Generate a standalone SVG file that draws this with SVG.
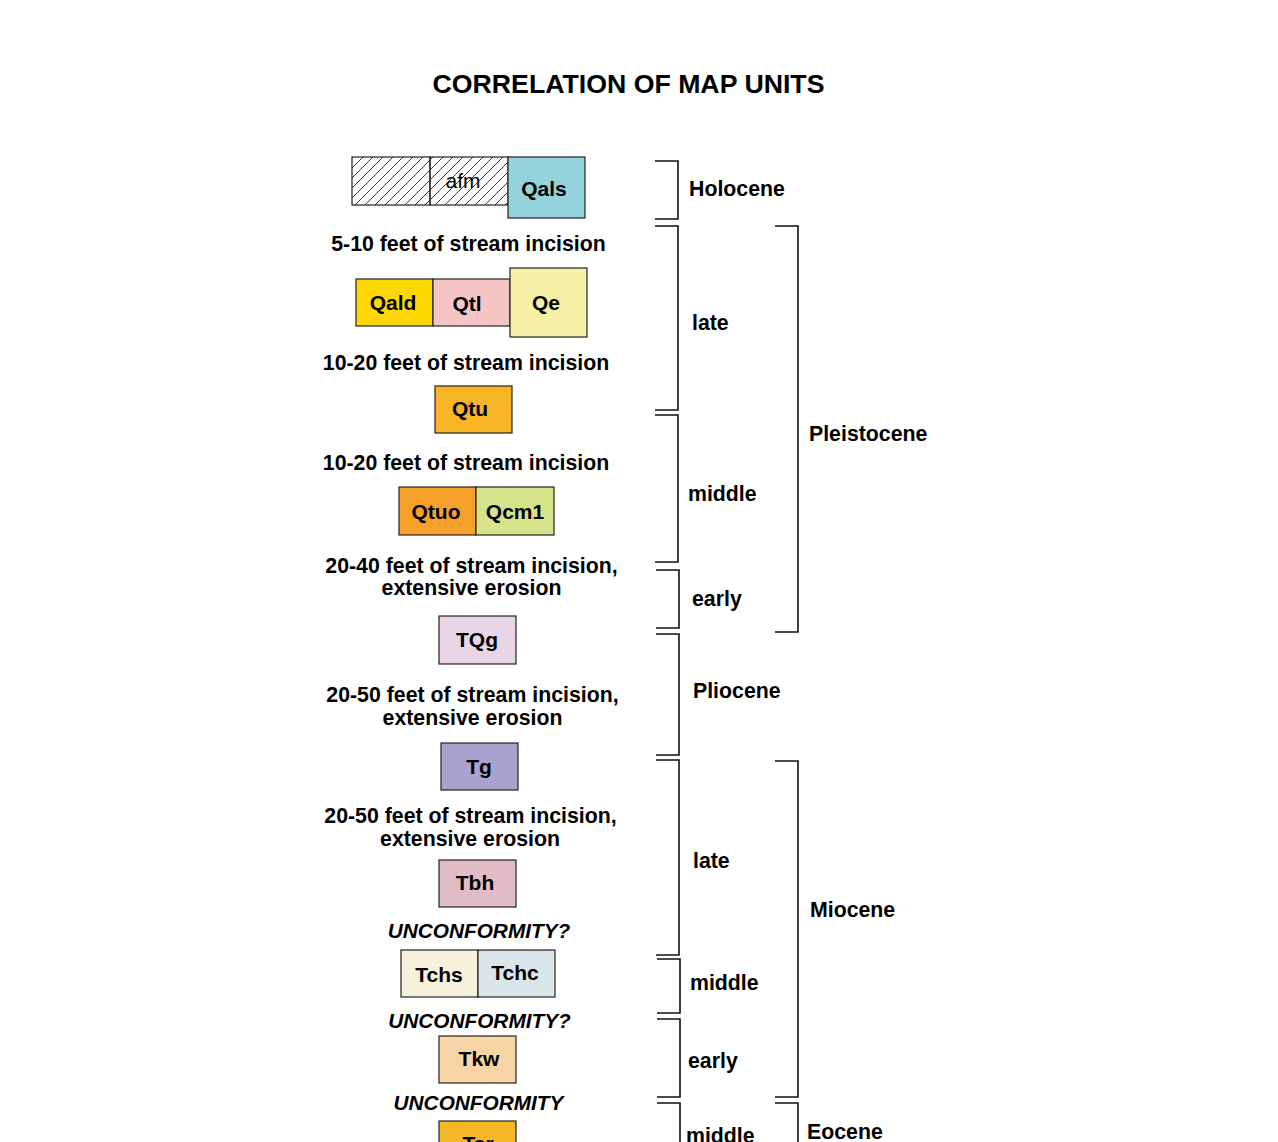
<svg xmlns="http://www.w3.org/2000/svg" width="1278" height="1142" viewBox="0 0 1278 1142">
<defs>
<pattern id="hatch" patternUnits="userSpaceOnUse" width="10" height="10">
<path d="M0,10 L10,0 M-2,2 L2,-2 M8,12 L12,8" stroke="#222" stroke-width="0.9" fill="none"/>
</pattern>
</defs>
<style>
text{font-family:"Liberation Sans",Arial,Helvetica,sans-serif;fill:#000}
.t{font-size:26.7px;font-weight:bold;text-anchor:middle}
.u{font-size:21px;font-weight:bold;text-anchor:middle}
.n{font-size:21px;text-anchor:middle}
.lab{font-size:21.3px;font-weight:bold}
.desc{font-size:21.3px;font-weight:bold;text-anchor:middle}
.unc{font-size:20.8px;font-weight:bold;font-style:italic;text-anchor:middle}
.box{stroke:#222;stroke-width:1.2}
.br{fill:none;stroke:#111;stroke-width:1.6}
</style>
<rect width="1278" height="1142" fill="#fff"/>
<text class="t" x="628.5" y="93">CORRELATION OF MAP UNITS</text>

<g id="hatched1"><rect class="box" x="352" y="157" width="78" height="48" fill="url(#hatch)"/></g>
<g id="afm"><rect class="box" x="430" y="157" width="78" height="48" fill="url(#hatch)"/><text class="n" x="463" y="188">afm</text></g>
<g id="Qals"><rect class="box" x="508" y="157" width="77" height="61" fill="#93d4dc"/><text class="u" x="544" y="196">Qals</text></g>

<text class="desc" x="468.5" y="251">5-10 feet of stream incision</text>
<g id="Qald"><rect class="box" x="356" y="279" width="77" height="47" fill="#fdd800"/><text class="u" x="393" y="310">Qald</text></g>
<g id="Qtl"><rect class="box" x="433" y="279" width="77" height="47" fill="#f5c4c4"/><text class="u" x="467" y="311">Qtl</text></g>
<g id="Qe"><rect class="box" x="510" y="268" width="77" height="69" fill="#f5f0a6"/><text class="u" x="546" y="310">Qe</text></g>

<text class="desc" x="466" y="370">10-20 feet of stream incision</text>
<g id="Qtu"><rect class="box" x="435" y="386" width="77" height="47" fill="#f7b526"/><text class="u" x="470" y="416">Qtu</text></g>

<text class="desc" x="466" y="470">10-20 feet of stream incision</text>
<g id="Qtuo"><rect class="box" x="399" y="487" width="77" height="48" fill="#f5a02a"/><text class="u" x="436" y="519">Qtuo</text></g>
<g id="Qcm1"><rect class="box" x="476" y="487" width="78" height="48" fill="#d6e38a"/><text class="u" x="515" y="519">Qcm1</text></g>

<text class="desc" x="471.5" y="573">20-40 feet of stream incision,</text>
<text class="desc" x="471.5" y="595">extensive erosion</text>
<g id="TQg"><rect class="box" x="439" y="616" width="77" height="48" fill="#e8d5e6"/><text class="u" x="477" y="647">TQg</text></g>

<text class="desc" x="472.5" y="702">20-50 feet of stream incision,</text>
<text class="desc" x="472.5" y="725">extensive erosion</text>
<g id="Tg"><rect class="box" x="441" y="743" width="77" height="47" fill="#a9a2cf"/><text class="u" x="479" y="774">Tg</text></g>

<text class="desc" x="470.5" y="823">20-50 feet of stream incision,</text>
<text class="desc" x="470" y="846">extensive erosion</text>
<g id="Tbh"><rect class="box" x="439" y="860" width="77" height="47" fill="#e0bcc6"/><text class="u" x="475" y="890">Tbh</text></g>

<text class="unc" x="479" y="938">UNCONFORMITY?</text>
<g id="Tchs"><rect class="box" x="401" y="950" width="77" height="47" fill="#f6f1dc"/><text class="u" x="439" y="982">Tchs</text></g>
<g id="Tchc"><rect class="box" x="478" y="950" width="77" height="47" fill="#d9e5e9"/><text class="u" x="515" y="980">Tchc</text></g>

<text class="unc" x="479.5" y="1028">UNCONFORMITY?</text>
<g id="Tkw"><rect class="box" x="439" y="1036" width="77" height="47" fill="#f7d4a6"/><text class="u" x="479" y="1066">Tkw</text></g>

<text class="unc" x="478.5" y="1110">UNCONFORMITY</text>
<g id="Tsr"><rect class="box" x="439" y="1121" width="77" height="47" fill="#f4b829"/><text class="u" x="478" y="1151">Tsr</text></g>

<g id="connectors">
<path class="br" d="M655,161 H678 V219 H655"/>
<path class="br" d="M655,226 H678 V410 H655"/>
<path class="br" d="M655,415 H678 V562 H655"/>
<path class="br" d="M656,570 H679 V628 H656"/>
<path class="br" d="M656,634 H679 V755 H656"/>
<path class="br" d="M656,760 H679 V955 H656"/>
<path class="br" d="M657,959 H680 V1013 H657"/>
<path class="br" d="M657,1019 H680 V1097 H657"/>
<path class="br" d="M657,1103 H680 V1150"/>
<path class="br" d="M775,226 H798 V632 H775"/>
<path class="br" d="M775,761 H798 V1097 H775"/>
<path class="br" d="M775,1103 H798 V1150"/>
</g>

<g id="labels">
<text class="lab" x="689" y="196">Holocene</text>
<text class="lab" x="692" y="330">late</text>
<text class="lab" x="688" y="501">middle</text>
<text class="lab" x="692" y="606">early</text>
<text class="lab" x="809" y="441">Pleistocene</text>
<text class="lab" x="693" y="698">Pliocene</text>
<text class="lab" x="693" y="868">late</text>
<text class="lab" x="810" y="917">Miocene</text>
<text class="lab" x="690" y="990">middle</text>
<text class="lab" x="688" y="1068">early</text>
<text class="lab" x="686" y="1143">middle</text>
<text class="lab" x="807" y="1139">Eocene</text>
</g>
</svg>
